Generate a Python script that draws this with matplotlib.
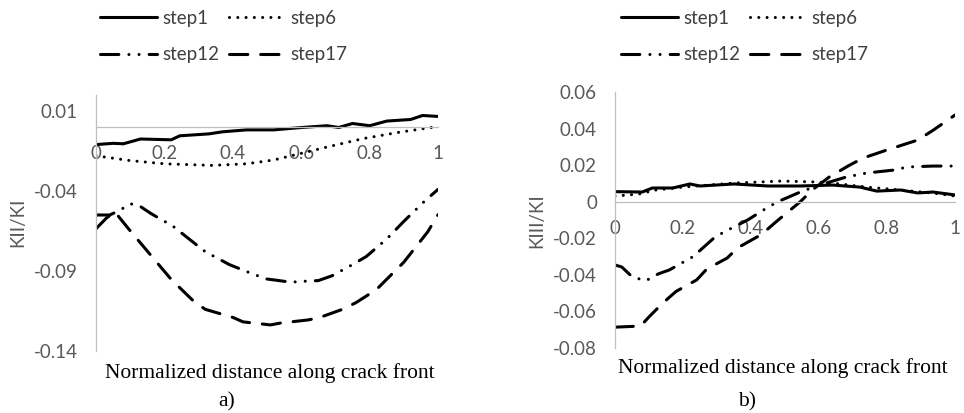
import matplotlib
matplotlib.use("Agg")
import matplotlib.pyplot as plt
from matplotlib.lines import Line2D

# KII/KI along the crack front, a)
a_x1 = [0, 0.05, 0.08, 0.13, 0.22, 0.245, 0.33, 0.37, 0.44, 0.52, 0.59, 0.675, 0.71, 0.75, 0.8, 0.85, 0.92, 0.955, 1.0]
a_y1 = [-0.011, -0.0102, -0.0105, -0.0075, -0.008, -0.0055, -0.0043, -0.003, -0.0018, -0.0018, -0.0005, 0.0008,
        -0.0003, 0.0022, 0.0008, 0.0037, 0.0047, 0.0072, 0.0066]
a_x6 = [0, 0.1, 0.2, 0.34, 0.44, 0.52, 0.59, 0.68, 0.78, 0.88, 1.0]
a_y6 = [-0.018, -0.021, -0.023, -0.024, -0.023, -0.0206, -0.017, -0.0123, -0.0073, -0.0035, 0.0003]
a_x12 = [0, 0.04, 0.07, 0.1, 0.125, 0.16, 0.225, 0.29, 0.32, 0.39, 0.46, 0.5, 0.57, 0.6, 0.65, 0.69, 0.75, 0.79,
         0.85, 0.9, 0.96, 1.0]
a_y12 = [-0.055, -0.055, -0.052, -0.048, -0.049, -0.054, -0.062, -0.073, -0.078, -0.086, -0.092, -0.095, -0.097,
         -0.0965, -0.096, -0.093, -0.086, -0.081, -0.070, -0.059, -0.0465, -0.039]
a_x17 = [0, 0.03, 0.055, 0.095, 0.14, 0.22, 0.29, 0.32, 0.4, 0.43, 0.51, 0.54, 0.62, 0.655, 0.72, 0.76, 0.82, 0.9,
         0.97, 1.0]
a_y17 = [-0.0636, -0.057, -0.053, -0.0636, -0.075, -0.0953, -0.1098, -0.114, -0.119, -0.1218, -0.1237, -0.1225,
         -0.1206, -0.119, -0.114, -0.1098, -0.1016, -0.0845, -0.0655, -0.0548]

# KIII/KI along the crack front, b)
b_x1 = [0, 0.08, 0.11, 0.17, 0.22, 0.25, 0.35, 0.45, 0.545, 0.64, 0.72, 0.77, 0.84, 0.89, 0.935, 1.0]
b_y1 = [0.0055, 0.0053, 0.0075, 0.0075, 0.0097, 0.0086, 0.0097, 0.0086, 0.0086, 0.0091, 0.008, 0.0058, 0.0064,
        0.0048, 0.0053, 0.0037]
b_x6 = [0, 0.07, 0.12, 0.2, 0.35, 0.49, 0.59, 0.64, 0.74, 0.84, 0.935, 1.0]
b_y6 = [0.0031, 0.0042, 0.0064, 0.008, 0.0102, 0.0113, 0.0108, 0.0102, 0.008, 0.0064, 0.0047, 0.0031]
b_x12 = [0, 0.02, 0.05, 0.09, 0.127, 0.16, 0.23, 0.29, 0.32, 0.39, 0.455, 0.49, 0.545, 0.6, 0.68, 0.74, 0.82, 0.86,
         0.935, 1.0]
b_y12 = [-0.0346, -0.0357, -0.041, -0.0433, -0.0395, -0.0373, -0.030, -0.020, -0.0166, -0.010, -0.0024, 0.0009,
         0.0053, 0.009, 0.0135, 0.0157, 0.0173, 0.019, 0.0195, 0.0195]
b_x17 = [0, 0.075, 0.1, 0.14, 0.18, 0.24, 0.27, 0.33, 0.36, 0.43, 0.48, 0.545, 0.58, 0.63, 0.69, 0.73, 0.8, 0.89,
         0.935, 1.0]
b_y17 = [-0.0686, -0.068, -0.063, -0.0555, -0.049, -0.0428, -0.0368, -0.0308, -0.0253, -0.018, -0.010, 0.0, 0.0064,
         0.0135, 0.02, 0.0239, 0.0283, 0.0337, 0.039, 0.0474]

labels = ['step1', 'step6', 'step12', 'step17']
x_ticks = [0, 0.2, 0.4, 0.6, 0.8, 1]
x_ticklabels = ['0', '0.2', '0.4', '0.6', '0.8', '1']
a_yticks = [-0.14, -0.09, -0.04, 0.01]
b_yticks = [-0.08, -0.06, -0.04, -0.02, 0, 0.02, 0.04, 0.06]

plt.rcParams['font.family'] = ['Lato', 'DejaVu Sans']
GRAY = '#595959'
AXIS = '#bfbfbf'
LW = 2.2

styles = [
    dict(linestyle='-', solid_capstyle='round'),
    dict(linestyle=(0, (0.01, 2.7)), dash_capstyle='round'),
    dict(linestyle=(0, (6, 3.3, 0.01, 3.3, 0.01, 3.3)), dash_capstyle='round'),
    dict(linestyle=(0, (6, 4.2)), dash_capstyle='round'),
]


def draw_panel(ax, series, ylim, yticks, yfmt):
    for (x, y), st in zip(series, styles):
        ax.plot(x, y, color='black', lw=LW, **st)
    ax.set_xlim(0, 1)
    ax.set_ylim(*ylim)
    for s in ['top', 'right']:
        ax.spines[s].set_visible(False)
    ax.spines['left'].set_color(AXIS)
    ax.spines['left'].set_linewidth(0.9)
    ax.spines['bottom'].set_position(('data', 0))
    ax.spines['bottom'].set_color(AXIS)
    ax.spines['bottom'].set_linewidth(0.9)
    ax.set_xticks(x_ticks)
    ax.set_xticklabels(x_ticklabels)
    ax.set_yticks(yticks)
    ax.set_yticklabels([yfmt(v) for v in yticks])
    ax.tick_params(axis='x', length=0, pad=13, labelsize=13.5, labelcolor=GRAY)
    ax.tick_params(axis='y', length=0, pad=13, labelsize=13.5, labelcolor=GRAY)
    ax.patch.set_alpha(0)


def legend_for(cx):
    handles = [Line2D([], [], color='black', lw=LW, **st) for st in styles]
    # ncol=2 fills column by column: step1/step12, then step6/step17
    order = [0, 2, 1, 3]
    fig.legend([handles[i] for i in order], [labels[i] for i in order],
               loc='center', bbox_to_anchor=(cx, 0.912), ncol=2, frameon=False,
               fontsize=13.5, labelcolor='#404040', handlelength=3.0, handletextpad=0.3,
               columnspacing=0.5, labelspacing=1.05)


fig = plt.figure(figsize=(9.64, 4.13), dpi=100)

ax1 = fig.add_axes([96 / 964, 62 / 413, 342 / 964, 256 / 413])
draw_panel(ax1, [(a_x1, a_y1), (a_x6, a_y6), (a_x12, a_y12), (a_x17, a_y17)],
           (-0.14, 0.02), a_yticks, lambda v: f'{v:.2f}')
ax2 = fig.add_axes([615 / 964, 65 / 413, 340 / 964, 256 / 413])
draw_panel(ax2, [(b_x1, b_y1), (b_x6, b_y6), (b_x12, b_y12), (b_x17, b_y17)],
           (-0.08, 0.06), b_yticks, lambda v: '0' if v == 0 else f'{v:.2f}')

legend_for(224 / 964)
legend_for(745 / 964)

fig.text(18 / 964, 1 - 222 / 413, 'KII/KI', rotation=90, ha='center', va='center', fontsize=13.5, color=GRAY)
fig.text(537 / 964, 1 - 221 / 413, 'KIII/KI', rotation=90, ha='center', va='center', fontsize=13.5, color=GRAY)

serif = dict(family='Liberation Serif', fontsize=15.5, color='black', ha='center')
fig.text(270 / 964, 1 - 378 / 413, 'Normalized distance along crack front', va='baseline', **serif)
fig.text(783 / 964, 1 - 373 / 413, 'Normalized distance along crack front', va='baseline', **serif)
fig.text(227 / 964, 1 - 402 / 413, 'a)', va='center', **serif)
fig.text(747 / 964, 1 - 402 / 413, 'b)', va='center', **serif)

fig.savefig('out.png', dpi=100)
